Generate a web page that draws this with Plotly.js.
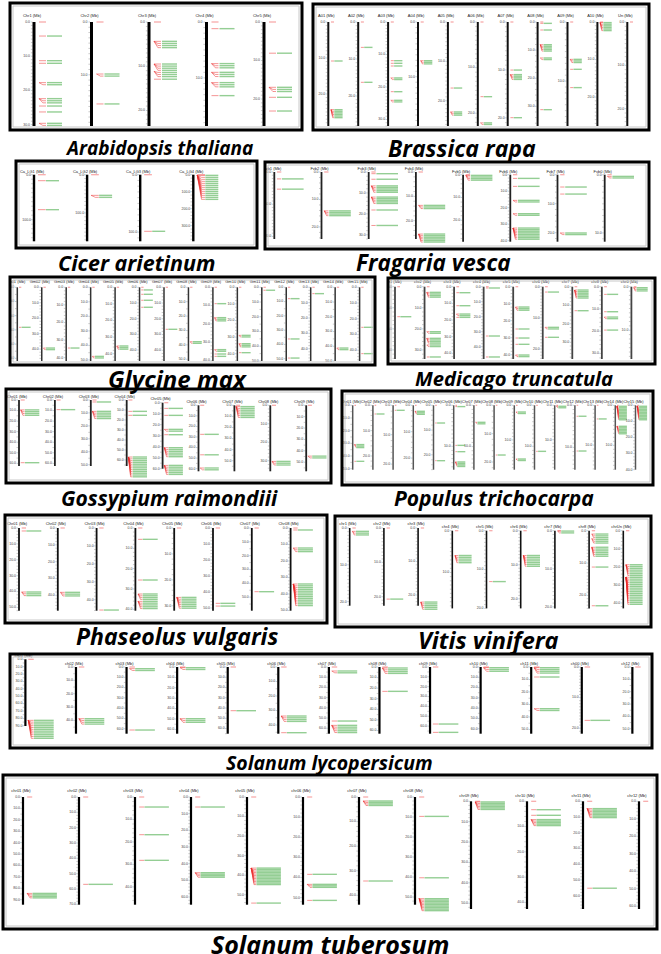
<!DOCTYPE html>
<html><head><meta charset="utf-8">
<script src="https://cdn.plot.ly/plotly-3.0.1.min.js"></script>
<style>html,body{margin:0;padding:0;background:#fff}</style>
</head><body><div id="chart" style="width:661px;height:954px"></div>
<script>
// ===== DATA (gene positions in % of chromosome, [position, number of genes]) =====
const arabChr = ["Chr1","Chr2","Chr3","Chr4","Chr5"];
const arabLen = [30.4,19.7,23.5,18.6,27.0];
const arabGenes = [
  [[13.5,1],[37.2,1],[39.7,1],[58.3,2],[73.7,3],[80.8,1],[86.5,1],[97.4,2]],
  [[50,2],[78.8,1]],
  [[18.6,4],[40.4,4],[47.4,3],[55,1]],
  [[6.4,1],[40,3],[48.4,3],[58.3,3],[70.8,1]],
  [[30,1],[62.8,3],[72.4,1],[85.6,1]]
];
const brapChr = ["A01","A02","A03","A04","A05","A06","A07","A08","A09","A10","Un"];
const brapLen = [28.9,28.1,32,19,26.4,22.8,21.7,37,17.6,27.7,24];
const brapGenes = [
  [[37.5,1],[84.3,6]],[[24.4,1],[58,1]],
  [[37.2,1],[39.7,1],[42.3,1],[53.8,2],[67,1],[75.3,2]],
  [[37.2,3]],[[63.5,1],[86.5,3]],[[71.8,1],[97,2]],
  [[46.2,1],[50.6,4],[92,1]],
  [[1.3,1],[7.7,1],[21.8,5],[34.6,2],[84.3,1]],
  [[35.9,3],[45.5,1],[63.1,1]],[[0.6,6]],[]
];
const cicerChr = ["Ca_LG1","Ca_LG2","Ca_LG3","Ca_LG4"];
const cicerLen = [148,174,116,392];
const cicerGenes = [[[9,1],[52.5,1]],[[31,2]],[[85,1]],[[1,13]]];
const fragChr = ["Fvb1","Fvb2","Fvb3","Fvb4","Fvb5","Fvb6","Fvb7","Fvb0"];
const fragLen = [20.8,24.4,32,27.5,29.4,40.6,23.1,11.5];
const fragGenes = [
  [[10.3,1],[25.6,1]],[[58,4]],
  [[2.5,1],[10.8,1],[20.7,5],[37.4,5],[56.7,1],[79.8,1]],
  [[49.8,3],[92.6,6]],[[1,4]],
  [[5.5,1],[17.4,1],[38.3,2],[58.2,2],[79.6,8]],
  [[18.4,1],[28.9,1],[87,2]],[[2.5,2]]
];
const glyChr = ["Gm01","Gm02","Gm03","Gm04","Gm05","Gm06","Gm07","Gm08","Gm09","Gm10","Gm11","Gm12","Gm13","Gm14","Gm15"];
const glyLen = [51.9,47.7,41.9,50.7,44.4,47,46.8,51.2,40.3,44.4,50,51.6,48,50,46.8];
const glyGenes = [
  [[54.3,1]],[[82.4,2]],[[82.4,1]],[[93.7,2]],[[79.6,3]],
  [[3.6,1],[9.5,1],[17.6,1],[27.1,1]],[[57,1]],[[73.8,2]],
  [[22.2,1],[41.2,3],[84.6,2],[90.5,1],[93.7,1]],
  [[65.2,2],[76.5,3],[88.7,1]],[[4,1]],[[15.4,1],[70.1,1],[96,1]],
  [[8.6,1]],[[82.4,2]],[[54.3,1],[90,1]]
];
const medChr = ["chr1","chr2","chr3","chr4","chr5","chr6","chr7","chr8","chr0"];
const medLen = [34.3,34.3,43.4,48.2,42.5,23.2,39,32.5,16.6];
const medGenes = [
  [[41.5,1]],[[7.8,4],[62.2,2],[71.4,4],[80.6,2],[97.2,1]],
  [[8.3,1],[26.3,1],[37.8,2],[42.4,1]],[[1.8,1],[68.2,1],[97.2,1]],
  [[28.1,3],[58.5,1],[71,1],[79.7,1],[94.5,2]],
  [[7.4,1],[56.2,2],[70,1]],[[4.6,6],[33.2,1]],
  [[10.6,1],[34.6,1],[42,2],[60,1]],[[1.4,3]]
];
const gosChr = ["Chr01","Chr02","Chr03","Chr04","Chr05","Chr06","Chr07","Chr08","Chr09"];
const gosLen = [62.5,62.5,51,66,60,62.5,59.5,35.7,58];
const gosGenes = [
  [[15,4],[95,1]],[[14.6,1]],[[3,1],[17.2,5]],
  [[17.2,1],[23.2,1],[86.4,12]],
  [[8.6,1],[19.2,1],[40.4,2],[48.5,1],[68.2,6],[95,6]],
  [[44,1],[75,1],[95,2]],[[2,7]],[[85,3]],[[77,2]]
];
const popChr = ["Chr01","Chr02","Chr03","Chr04","Chr05","Chr06","Chr07","Chr08","Chr09","Chr10","Chr11","Chr12","Chr13","Chr14","Chr15"];
const popLen = [50.8,25.4,21.9,24.4,26,15.7,15.6,22.7,18.6,15.7,18.7,15.3,16.2,16.1,40];
const popGenes = [
  [[61,3],[87,1]],[[13.5,1]],[[7.8,1]],[[9.3,3]],[[27.5,1],[86,1]],
  [[2,1],[62.2,1],[72,1],[88,4]],[[26.4,2]],[[77.2,1]],
  [[10.4,2],[83.4,2]],[[71.5,1]],[[1.5,2]],[[17,1],[71,1]],
  [[21.2,1]],[[1.5,10],[32.6,6]],[[1.5,10]]
];
const phaChr = ["Chr01","Chr02","Chr03","Chr04","Chr05","Chr06","Chr07","Chr08"];
const phaLen = [52,49.1,46.1,40.7,31.9,51.7,59.8,50.1];
const phaGenes = [
  [[3.6,1],[77.4,3]],[[77.8,3]],[[99.2,1]],
  [[13.7,1],[62.9,1],[79.8,4],[88.7,5]],[[83.9,7]],
  [[91.1,1],[94.4,1]],[[77,1]],[[2.4,1],[24.2,3],[67.7,13]]
];
const vitChr = ["chr1","chr2","chr3","chr4","chr5","chr6","chr7","chr8","chrUn"];
const vitLen = [21.1,22.6,23.2,18.6,20,22.8,20.4,24,43];
const vitGenes = [
  [[4.3,3]],[[91.5,1]],[[95.3,5]],[[31.9,5]],[[65.5,1]],[[31.9,7]],[[0.5,2]],
  [[4.3,3],[10.2,3],[21.3,6],[46.8,1],[96.6,1]],[[43.8,7],[59.6,16]]
];
const slyChr = ["ch01","ch02","ch03","ch04","ch05","ch06","ch07","ch08","ch09","ch10","ch11","ch00","ch12"];
const slyLen = [90.3,49.9,64.8,64.1,65,46,65.3,63,67.7,64.8,53.4,21.8,54];
const slyGenes = [
  [[91.5,11]],[[77.5,4]],[[2.5,2],[94.5,1]],[[1,2],[77.5,3]],[[65.5,1]],
  [[73.5,4],[98.5,1]],[[6,2],[81,1],[87.5,5]],[[1.5,4],[36.5,1]],
  [[85.5,1],[98,1]],[[1,3]],[[1,4],[15,1],[62.5,2]],[[80,1]],[]
];
const stuChr = ["chr01","chr02","chr03","chr04","chr05","chr06","chr07","chr08","chr09","chr10","chr11","chr12"];
const stuLen = [94.4,70.2,47.9,64.6,55.1,53.5,43.8,53.8,52.8,42.6,68.5,61.6];
const stuGenes = [
  [[89.5,4]],[[81.1,1]],[[9.3,1],[35,1],[58.8,1]],[[9.3,1],[70.3,4]],
  [[66,12],[98.5,1]],[[71.8,1],[81.1,3],[96,1]],[[3.7,4],[78,1]],
  [[18,1],[75,1],[94.4,9]],[[0.6,6]],[[7.8,1],[13,1],[17,5]],
  [[6.8,7],[80.7,1]],[]
];

// ===== LAYOUT CONFIG (pixels) =====
const W = 661, H = 954;
const panels = [
 {title:"Arabidopsis thaliana", chr:arabChr, len:arabLen, genes:arabGenes, step:10,
  box:[10,3,302,130], first:34, spacing:57.5, top:22, bottom:126, titleX:158.5, titleY:148, tsize:19, hdrGap:6, tickOff:4,
  a:5, c:12, g:1, L:15, r:2.1, w:3, col:'#000'},
 {title:"Brassica rapa", chr:brapChr, len:brapLen, genes:brapGenes, step:10,
  box:[313,4,649,130], first:328.3, spacing:29.9, top:22, bottom:126, titleX:462.5, titleY:148, tsize:23, hdrGap:6, tickOff:3,
  a:2.7, c:5.7, g:0.3, L:8.3, r:1.6, w:2, col:'#111'},
 {title:"Cicer arietinum", chr:cicerChr, len:cicerLen, genes:cicerGenes, step:100,
  box:[16,161,257,248], first:34, spacing:53.1, top:174.7, bottom:241.3, titleX:136, titleY:262, tsize:21.5, hdrGap:3, tickOff:3,
  a:4, c:11.7, g:0.3, L:13, r:2, w:2.4, col:'#000'},
 {title:"Fragaria vesca", chr:fragChr, len:fragLen, genes:fragGenes, step:10,
  box:[265,162,649,249], first:274.3, spacing:47.2, top:172, bottom:239, titleX:433.5, titleY:262, tsize:22.5, hdrGap:3, tickOff:3,
  a:2.7, c:7, g:0.7, L:21.6, r:1.6, w:1.8, col:'#222', drop:[0,0,0,0,2.7,2.7,2.7,2.7]},
 {title:"Glycine max", chr:glyChr, len:glyLen, genes:glyGenes, step:10,
  box:[10,277,375,365], first:17.3, spacing:24.45, top:287.3, bottom:361, titleX:177, titleY:378, tsize:24, hdrGap:5, tickOff:3,
  a:1.7, c:4, g:0.3, L:9, r:1.6, w:1.5, col:'#333'},
 {title:"Medicago truncatula", chr:medChr, len:medLen, genes:medGenes, step:10,
  box:[388,278,655,364], first:395, spacing:29.55, top:286.7, bottom:359, titleX:513.5, titleY:378, tsize:20.2, hdrGap:4.4, tickOff:3,
  a:2.3, c:5, g:0.3, L:11, r:1.6, w:1.8, col:'#444'},
 {title:"Gossypium raimondiii", chr:gosChr, len:gosLen, genes:gosGenes, step:10,
  box:[6,389,331,483], first:19, spacing:35.9, top:400, bottom:466, titleX:169, titleY:498, tsize:21, hdrGap:3.3, tickOff:3,
  a:1.7, c:5.7, g:0.3, L:14.3, r:1.8, w:1.8, col:'#222', drop:[0,0,0,0,2.7,5.3,5.3,5.3,5.3]},
 {title:"Populus trichocarpa", chr:popChr, len:popLen, genes:popGenes, step:10,
  box:[342,391,653,485], first:352.7, spacing:20.2, top:405.3, bottom:469.7, titleX:494, titleY:498, tsize:21, hdrGap:3.3, tickOff:3,
  a:1.7, c:3.3, g:0.3, L:8, r:1.5, w:1.5, col:'#555'},
 {title:"Phaseolus vulgaris", chr:phaChr, len:phaLen, genes:phaGenes, step:10,
  box:[5,515,327,623], first:19, spacing:38.8, top:528, bottom:610.7, titleX:177, titleY:636, tsize:23, hdrGap:4, tickOff:3,
  a:2.7, c:7, g:0.3, L:15, r:1.8, w:1.8, col:'#111'},
 {title:"Vitis vinifera", chr:vitChr, len:vitLen, genes:vitGenes, step:10,
  box:[335,516,651,627], first:349.7, spacing:34.2, top:528, bottom:605.7, titleX:488, titleY:640, tsize:23.5, hdrGap:4, tickOff:3,
  a:2.7, c:6, g:0.3, L:13, r:1.8, w:1.6, col:'#111', drop:[0,0,0,2.7,2.7,2.7,2.7,2.7,2.7]},
 {title:"Solanum lycopersicum", chr:slyChr, len:slyLen, genes:slyGenes, step:10,
  box:[10,654,652,748], first:25.4, spacing:50.58, top:667, bottom:733.7, titleX:329, titleY:762, tsize:19.5, hdrGap:3.3, tickOff:3,
  a:2.9, c:8.3, g:0.3, L:19.7, r:1.8, w:2.2, col:'#000', drop:[-7.7,0,0,0,0,0,0,0,0,0,0,0,0]},
 {title:"Solanum tuberosum", chr:stuChr, len:stuLen, genes:stuGenes, step:10,
  box:[3,775,657,929], first:23, spacing:56.0, top:797, bottom:904.7, titleX:330, titleY:944, tsize:25, hdrGap:5.7, tickOff:3,
  a:4.2, c:9.2, g:0.3, L:24.4, r:1.5, w:2.2, col:'#000', drop:[0,0,0,0,0,0,0,0,4.3,4.3,4.3,4.3]}
];

const traces = [];
const layout = {width:W, height:H, margin:{l:0,r:0,t:0,b:0}, showlegend:false,
  paper_bgcolor:'#fff', plot_bgcolor:'rgba(0,0,0,0)', shapes:[], annotations:[], hovermode:false};

panels.forEach((p,k)=>{
  const id = k===0 ? '' : String(k+1);
  const xa='x'+id, ya='y'+id;
  const [bx0,by0,bx1,by1] = p.box;
  const ppy=(p.bottom-p.top)/100, ppx=p.spacing;
  const dx=v=>v/ppx, dy=v=>v/ppy;
  layout['xaxis'+id] = {domain:[bx0/W,bx1/W], range:[(bx0-p.first)/ppx,(bx1-p.first)/ppx], visible:false, fixedrange:true};
  layout['yaxis'+id] = {domain:[1-by1/H,1-by0/H], range:[(by1-p.top)/ppy,(by0-p.top)/ppy], visible:false, fixedrange:true};
  const bars={x:[],y:[]}, minor={x:[],y:[]}, topm={x:[],y:[]}, conn={x:[],y:[]}, green={x:[],y:[]};
  const tl={x:[],y:[],t:[]}, hd={x:[],y:[],t:[]};
  p.chr.forEach((name,i)=>{
    const off = p.drop ? dy(p.drop[i]) : 0;
    bars.x.push(i,i,null); bars.y.push(off,100+off,null);
    hd.x.push(i-dx(2)); hd.y.push(off-dy(p.hdrGap)); hd.t.push(name+' (Mb)');
    const L=p.len[i];
    const nt=Math.floor(L/p.step+1e-9);
    for(let j=0;j<=nt;j++){ tl.x.push(i-dx(p.tickOff)); tl.y.push(j*p.step/L*100+off); tl.t.push((j*p.step).toFixed(1)); }
    let div=10;
    for(const d of [10,5,2,1]){ div=d; if((p.step/d)/L*100*ppy>=3) break; }
    const ms=p.step/div, nm=Math.floor(L/ms+1e-9);
    for(let j=0;j<=nm;j++){ const yy=j*ms/L*100+off; minor.x.push(i-dx(p.w/2+1.6), i-dx(p.w/2), null); minor.y.push(yy,yy,null); }
    topm.x.push(i+dx(p.a), i+dx(p.c), null); topm.y.push(off,off,null);
    const entries=[];
    p.genes[i].slice().sort((u,v)=>u[0]-v[0]).forEach(([pos,n])=>{ for(let j=0;j<n;j++) entries.push(pos); });
    let prev=-1e9;
    entries.forEach(pos=>{
      const py=pos+off;
      const ly=Math.max(py, prev+dy(p.r)); prev=ly;
      conn.x.push(i+dx(p.a), i+dx(p.a+(p.c-p.a)*0.55), i+dx(p.c), null);
      conn.y.push(py, ly, ly, null);
      green.x.push(i+dx(p.c+p.g), i+dx(p.c+p.g+p.L), null);
      green.y.push(ly, ly, null);
    });
  });
  const base={type:'scatter', xaxis:xa, yaxis:ya, hoverinfo:'skip'};
  traces.push(Object.assign({}, base, {mode:'lines', x:minor.x, y:minor.y, line:{color:'#aaa', width:0.6}}));
  traces.push(Object.assign({}, base, {mode:'lines', x:bars.x, y:bars.y, line:{color:p.col, width:p.w}}));
  traces.push(Object.assign({}, base, {mode:'lines', x:topm.x, y:topm.y, line:{color:'rgba(240,90,90,0.55)', width:1.2}}));
  traces.push(Object.assign({}, base, {mode:'lines', x:green.x, y:green.y, line:{color:'rgba(60,165,60,0.55)', width:1.4}}));
  traces.push(Object.assign({}, base, {mode:'lines', x:conn.x, y:conn.y, line:{color:'rgba(235,40,40,0.55)', width:0.9}}));
  traces.push(Object.assign({}, base, {mode:'text', x:tl.x, y:tl.y, text:tl.t, textposition:'middle left',
    textfont:{family:'Liberation Sans', size:3.5, color:'#444'}}));
  traces.push(Object.assign({}, base, {mode:'text', x:hd.x, y:hd.y, text:hd.t, textposition:'middle center',
    textfont:{family:'Liberation Sans', size:4, color:'#222'}}));
  const xr = xa+' domain', yr = ya+' domain';
  const wpx=bx1-bx0, hpx=by1-by0;
  layout.shapes.push({type:'rect', xref:xr, yref:yr, x0:0, x1:1, y0:0, y1:1, line:{color:'#000', width:3}, layer:'above'});
  layout.shapes.push({type:'rect', xref:xr, yref:yr, x0:3/wpx, x1:1-3/wpx, y0:3/hpx, y1:1-3/hpx, line:{color:'#c8c8c8', width:1}, layer:'above'});
  layout.annotations.push({xref:'paper', yref:'paper', x:p.titleX/W, y:1-p.titleY/H, xanchor:'center', yanchor:'middle',
    showarrow:false, text:'<b><i>'+p.title+'</i></b>', font:{family:'Open Sans', size:p.tsize, color:'#000'}});
});

Plotly.newPlot('chart', traces, layout, {staticPlot:true, displayModeBar:false});
</script>
</body></html>
